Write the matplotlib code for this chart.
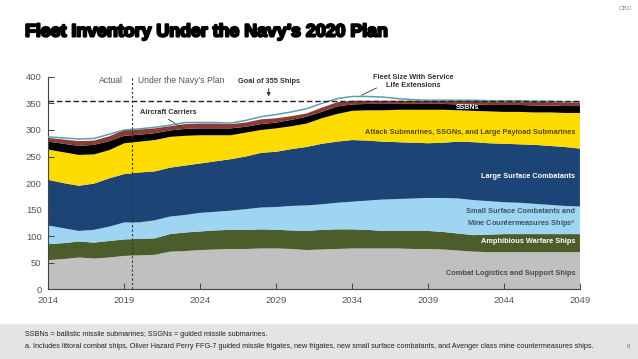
import numpy as np
import matplotlib
matplotlib.use("Agg")
import matplotlib.pyplot as plt
import matplotlib.patheffects as pe

# Fleet inventory (number of ships), 2014-2049
years = list(range(2014, 2050))

logistics = [55, 57, 60, 58, 60, 63, 64, 65, 71, 72, 74, 75, 76, 76, 77, 77, 76, 74,
             75, 76, 77, 77, 77, 77, 76, 76, 75, 73, 71, 70, 70, 70, 70, 70, 70, 70]
amphibious = [30, 30, 30, 30, 31, 31, 31, 31, 33, 35, 35, 36, 36, 36, 36, 35, 35, 36,
              37, 37, 36, 35, 33, 33, 34, 34, 33, 32, 31, 33, 34, 34, 34, 34, 34, 34]
small_surface = [35, 28, 20, 24, 27, 32, 31, 34, 33, 33, 35, 35, 36, 39, 41, 43, 46, 48,
                 48, 50, 52, 55, 59, 60, 61, 62, 64, 66, 66, 63, 60, 59, 57, 55, 53, 52]
large_surface = [86, 85, 85, 87, 91, 91, 94, 92, 92, 93, 93, 95, 97, 99, 103, 104, 107, 110,
                 114, 115, 116, 113, 109, 107, 105, 103, 104, 107, 109, 109, 110, 110, 111, 111, 111, 109]
attack_subs = [57, 58, 58, 55, 53, 58, 58, 59, 58, 56, 53, 49, 45, 45, 43, 44, 43, 44,
               48, 52, 55, 57, 59, 61, 62, 63, 62, 59, 59, 60, 60, 61, 61, 63, 64, 67]
ssbns = [15, 16, 17, 18, 17, 14, 13, 13, 12, 13, 13, 13, 13, 11, 11, 11, 12, 13,
         12, 14, 12, 12, 12, 11, 11, 11, 11, 11, 12, 12, 13, 13, 13, 13, 13, 13]
carriers = [7, 8, 9, 8, 9, 11, 10, 9, 8, 9, 9, 9, 8, 8, 9, 8, 7, 6,
            8, 8, 7, 6, 6, 6, 6, 6, 6, 7, 7, 7, 7, 7, 7, 7, 7, 7]
service_life_ext = [287, 285, 283, 284, 292, 300, 302, 305, 309, 314, 314, 314, 313, 318, 325, 329, 334, 340,
                    350, 359, 363, 363, 362, 359, 357, 356, 356, 356, 356, 355, 355, 355, 354, 354, 353, 353]
goal = 355

colors = ["#c0c0c0", "#4b5d2a", "#9dd5f2", "#1d4476", "#ffdc00", "#000000", "#8a3b36"]

sans = ["Liberation Sans", "DejaVu Sans"]
plt.rcParams["font.family"] = sans

fig = plt.figure(figsize=(6.38, 3.59), dpi=100)
ax = fig.add_axes([0.076, 0.194, 0.833, 0.592])

ax.stackplot(years, logistics, amphibious, small_surface, large_surface,
             attack_subs, ssbns, carriers, colors=colors, linewidth=0)
ax.plot(years, service_life_ext, color="#5b9fae", lw=1.1, zorder=3)
ax.plot([2014, 2049], [goal, goal], color="#222222", lw=1.0, ls=(0, (4, 2)), zorder=4)
ax.plot([2019.5, 2019.5], [0, 398], color="#333333", lw=0.8, ls=(0, (2, 2)), zorder=4)

ax.set_xlim(2014, 2049)
ax.set_ylim(0, 400)
ax.set_xticks(range(2014, 2050, 5))
ax.set_yticks(range(0, 401, 50))
for s in ["top", "right"]:
    ax.spines[s].set_visible(False)
for s in ["left", "bottom"]:
    ax.spines[s].set_color("#444444")
    ax.spines[s].set_linewidth(0.8)
ax.tick_params(direction="in", length=4, width=0.7, color="#444444",
               labelsize=6.8, labelcolor="#555555", pad=5)

lab_fs = 5.3
# annotations
ax.text(2018.9, 393, "Actual", ha="right", va="center", fontsize=6.2, color="#555555")
ax.text(2019.9, 393, "Under the Navy\u2019s Plan", ha="left", va="center", fontsize=6.2,
        color="#555555")
ax.text(2028.5, 392, "Goal of 355 Ships", ha="center", va="center", fontsize=lab_fs,
        weight="bold", color="#333333")
ax.annotate("", xy=(2028.5, 358), xytext=(2028.5, 383),
            arrowprops=dict(arrowstyle="-|>", color="#333333", lw=0.7, mutation_scale=5))
ax.text(2038.0, 391, "Fleet Size With Service\nLife Extensions", ha="center", va="center",
        fontsize=lab_fs, weight="bold", color="#333333", linespacing=1.15)
ax.plot([2035.6, 2034.6], [379, 365], color="#333333", lw=0.6)
ax.text(2020.0, 332, "Aircraft Carriers", ha="left", va="center", fontsize=lab_fs,
        weight="bold", color="#333333")
ax.plot([2021.9, 2022.7], [320, 306], color="#333333", lw=0.6)

ax.text(2041.6, 342, "SSBNs", ha="center", va="center", fontsize=5.0, weight="bold",
        color="white")
rx = 2048.7
ax.text(rx, 296, "Attack Submarines, SSGNs, and Large Payload Submarines", ha="right", va="center",
        fontsize=lab_fs, weight="bold", color="#5a4d10")
ax.text(rx, 212, "Large Surface Combatants", ha="right", va="center",
        fontsize=lab_fs, weight="bold", color="white")
ax.text(rx, 131, "Small Surface Combatants and\nMine Countermeasures Ships$^{\\mathrm{a}}$", ha="right",
        va="center", fontsize=lab_fs, weight="bold", color="#3e5468", linespacing=1.45)
ax.text(rx, 90, "Amphibious Warfare Ships", ha="right", va="center",
        fontsize=lab_fs, weight="bold", color="white")
ax.text(rx, 29, "Combat Logistics and Support Ships", ha="right", va="center",
        fontsize=lab_fs, weight="bold", color="#4a4a4a")

# title, header, footer
fig.text(25 / 638, 1 - 32 / 359, "Fleet Inventory Under the Navy\u2019s 2020 Plan", ha="left",
         va="center", fontsize=12.8, weight="bold", color="black",
         path_effects=[pe.withStroke(linewidth=1.5, foreground="black")])
fig.text(632 / 638, 1 - 9 / 359, "CBO", ha="right", va="center", fontsize=4.5, color="#888888")
fig.patches.append(plt.Rectangle((0, 0), 1, 1 - 324 / 359, transform=fig.transFigure,
                                 color="#e4e4e4", zorder=0))
fig.text(25 / 638, 1 - 335 / 359, "SSBNs = ballistic missile submarines; SSGNs = guided missile submarines.",
         ha="left", va="center", fontsize=5.2, color="#222222")
fig.text(25 / 638, 1 - 347 / 359,
         "a. Includes littoral combat ships, Oliver Hazard Perry FFG-7 guided missile frigates, new frigates, "
         "new small surface combatants, and Avenger class mine countermeasures ships.",
         ha="left", va="center", fontsize=5.2, color="#222222")
fig.text(628 / 638, 1 - 347 / 359, "8", ha="center", va="center", fontsize=4.2, color="#777777")

fig.savefig("out.png", dpi=100)
